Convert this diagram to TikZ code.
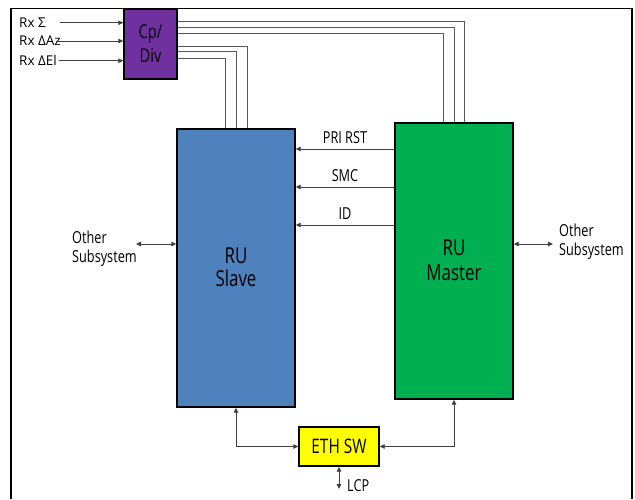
\documentclass[tikz,border=0pt]{standalone}
\usepackage{fontspec}
\setmainfont{Open Sans}[FakeStretch=0.77]
\newfontfamily\rxfont{Open Sans}
\usetikzlibrary{arrows.meta,calc}
\definecolor{cpPurple}{HTML}{7030A0}
\definecolor{slaveBlue}{HTML}{4F81BD}
\definecolor{masterGreen}{HTML}{00B050}
\definecolor{ethYellow}{HTML}{FFFF00}
\definecolor{wire}{HTML}{404040}
\begin{document}
\begin{tikzpicture}[x=1pt,y=-1pt,
 box/.style={draw=black,line width=1.4pt,inner sep=0pt,align=center},
 bus/.style={draw=black!65,line width=0.9pt},
 sig/.style={draw=wire,line width=0.9pt,-{Triangle[length=5pt,width=4.5pt]}},
 bi/.style={draw=wire,line width=0.9pt,{Triangle[length=5pt,width=4.5pt]}-{Triangle[length=5pt,width=4.5pt]}},
 lbl/.style={font=\fontsize{16.5}{19}\selectfont,inner sep=0pt,align=left},
 rx/.style={font=\rxfont\fontsize{13.5}{15}\selectfont,inner sep=0pt,anchor=west},
]
\useasboundingbox (0,0) rectangle (635,499);
\fill[white] (0,0) rectangle (635,499);
\draw[line width=1.8pt] (11,499) -- (11,8.5) -- (632,8.5) -- (632,499);

% blocks
\node[box,fill=cpPurple,minimum width=53pt,minimum height=70pt,font=\fontsize{19}{24}\selectfont] (cp) at (150.5,44) {Cp/\\Div};
\node[box,fill=slaveBlue,minimum width=118pt,minimum height=278pt] (slave) at (236,268) {};
\node[box,fill=masterGreen,minimum width=118pt,minimum height=276pt] (master) at (454,261) {};
\node[box,fill=ethYellow,minimum width=80pt,minimum height=39pt,font=\fontsize{20}{24}\selectfont] (eth) at (339,446.5) {ETH SW};

\node[font=\fontsize{22}{23}\selectfont,align=center,inner sep=0pt] (slavetxt) at (236,267) {RU\\Slave};
\node[font=\fontsize{22}{25}\selectfont,align=center,inner sep=0pt] (mastertxt) at (454,260) {RU\\Master};

% Rx inputs
\node[rx] (rxs) at (19,22.7) {Rx Σ};
\node[rx] (rxa) at (19,41) {Rx ΔAz};
\node[rx] (rxe) at (19,60.7) {Rx ΔEl};
\draw[sig] (60,22.7) coordinate (rxsend) -- (cp.west |- rxsend);
\draw[sig] (56,41) coordinate (rxaend) -- (cp.west |- rxaend);
\draw[sig] (59,60.7) coordinate (rxeend) -- (cp.west |- rxeend);

% bus lines to master
\draw[bus] ($(cp.north east)+(0,13)$) -| ([xshift=10pt]master.north);
\draw[bus] ($(cp.north east)+(0,19)$) -| (master.north);
\draw[bus] ($(cp.north east)+(0,25)$) -| ([xshift=-11pt]master.north);
% bus lines to slave
\draw[bus] ($(cp.north east)+(0,38)$) -| ([xshift=11pt]slave.north);
\draw[bus] ($(cp.north east)+(0,43)$) -| (slave.north);
\draw[bus] ($(cp.north east)+(0,50)$) -| ([xshift=-11pt]slave.north);

% control signals master -> slave
\draw[sig] (master.west |- 0,149) -- node[lbl,above=5pt] (pri) {PRI RST} (slave.east |- 0,149);
\draw[sig] (master.west |- 0,187) -- node[lbl,above=5pt] (smc) {SMC} (slave.east |- 0,187);
\draw[sig] (master.west |- 0,225) -- node[lbl,above=5pt] (id) {ID} (slave.east |- 0,225);

% other subsystems
\node[lbl,anchor=west] (othL) at (72,249) {Other\\Subsystem};
\coordinate (othLend) at (136,244);
\draw[bi] (othLend) -- (slave.west |- othLend);
\node[lbl,anchor=west] (othR) at (559,242) {Other\\Subsystem};
\coordinate (othRend) at (553,244);
\draw[bi] (master.east |- othRend) -- (othRend);

% ethernet
\draw[bi] (slave.south) |- (eth.west);
\draw[bi] (master.south) |- (eth.east);
\coordinate (lcp) at (eth.south |- 0,489);
\draw[bi] (eth.south) -- (lcp);
\node[lbl,anchor=west] (lcptxt) at (347,486) {LCP};
\end{tikzpicture}
\end{document}
